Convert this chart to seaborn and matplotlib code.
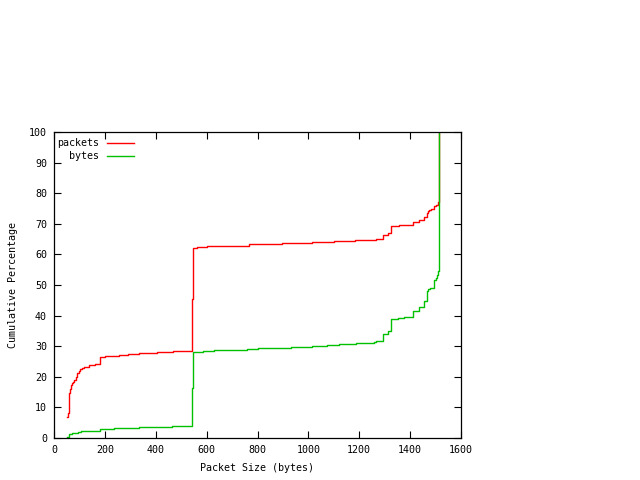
import pandas as pd
import matplotlib
matplotlib.use("Agg")
import matplotlib.pyplot as plt
import seaborn as sns

# cumulative distribution (step curves)
packet_sizes = [52, 56, 60, 64, 68, 72, 76, 80, 88, 92, 99, 103, 110, 118, 139, 160, 180,
                182, 202, 216, 254, 292, 335, 404, 466, 541, 545, 561, 600, 725, 768, 895,
                1015, 1102, 1183, 1266, 1294, 1314, 1323, 1357, 1412, 1436, 1454, 1465,
                1469, 1474, 1482, 1494, 1502, 1508, 1514]
packets_pct = [6.8, 8.1, 14.8, 15.9, 17.3, 17.9, 18.4, 19.0, 19.8, 21.1, 22.0, 22.4, 22.9,
               23.2, 23.8, 24.2, 25.3, 26.4, 26.7, 26.9, 27.1, 27.5, 27.7, 28.0, 28.5, 45.4,
               62.0, 62.4, 62.6, 62.8, 63.3, 63.6, 64.1, 64.3, 64.7, 65.0, 66.3, 67.0, 69.3,
               69.6, 70.5, 71.2, 72.3, 73.6, 74.2, 74.5, 74.8, 75.8, 76.1, 77.2, 100.0]

byte_sizes = [52, 60, 72, 95, 107, 180, 237, 335, 463, 541, 545, 587, 629, 760, 803, 930,
              1015, 1072, 1119, 1187, 1257, 1266, 1294, 1314, 1323, 1353, 1377, 1412, 1436,
              1454, 1467, 1470, 1477, 1494, 1502, 1506, 1510, 1514]
bytes_pct = [0.2, 1.2, 1.5, 1.9, 2.3, 2.8, 3.2, 3.6, 3.9, 16.2, 28.2, 28.4, 28.8, 29.1, 29.4,
             29.6, 30.0, 30.3, 30.6, 30.9, 31.3, 31.7, 34.0, 35.0, 38.9, 39.2, 39.6, 41.5,
             42.9, 44.9, 48.0, 48.6, 48.9, 51.6, 52.2, 53.3, 54.6, 100.0]

x_ticks = [0, 200, 400, 600, 800, 1000, 1200, 1400, 1600]
y_ticks = [0, 10, 20, 30, 40, 50, 60, 70, 80, 90, 100]

plt.rcParams['font.family'] = ['DejaVu Sans Mono']
plt.rcParams['font.size'] = 7.2

fig = plt.figure(figsize=(6.4, 4.8), dpi=100)
ax = fig.add_axes([54 / 640, 42 / 480, 407 / 640, 306 / 480])

sns.lineplot(x=packet_sizes, y=packets_pct, drawstyle='steps-post', estimator=None,
             sort=False, color='#ff0000', linewidth=1, label='packets', ax=ax)
sns.lineplot(x=byte_sizes, y=bytes_pct, drawstyle='steps-post', estimator=None,
             sort=False, color='#00c000', linewidth=1, label='bytes', ax=ax)

ax.set_xlim(0, 1600)
ax.set_ylim(0, 100)
ax.set_xticks(x_ticks)
ax.set_yticks(y_ticks)
ax.tick_params(direction='in', top=True, right=True, length=5, width=0.8, pad=5)
for s in ax.spines.values():
    s.set_linewidth(0.9)
ax.set_xlabel('Packet Size (bytes)', labelpad=6)
ax.set_ylabel('Cumulative Percentage', labelpad=8)

ax.legend(loc='upper left', bbox_to_anchor=(-0.01, 1.003), frameon=False, markerfirst=False,
          handlelength=2.7, handletextpad=0.8, labelspacing=0.3, borderaxespad=0.3)

fig.savefig('out.png', dpi=100)
